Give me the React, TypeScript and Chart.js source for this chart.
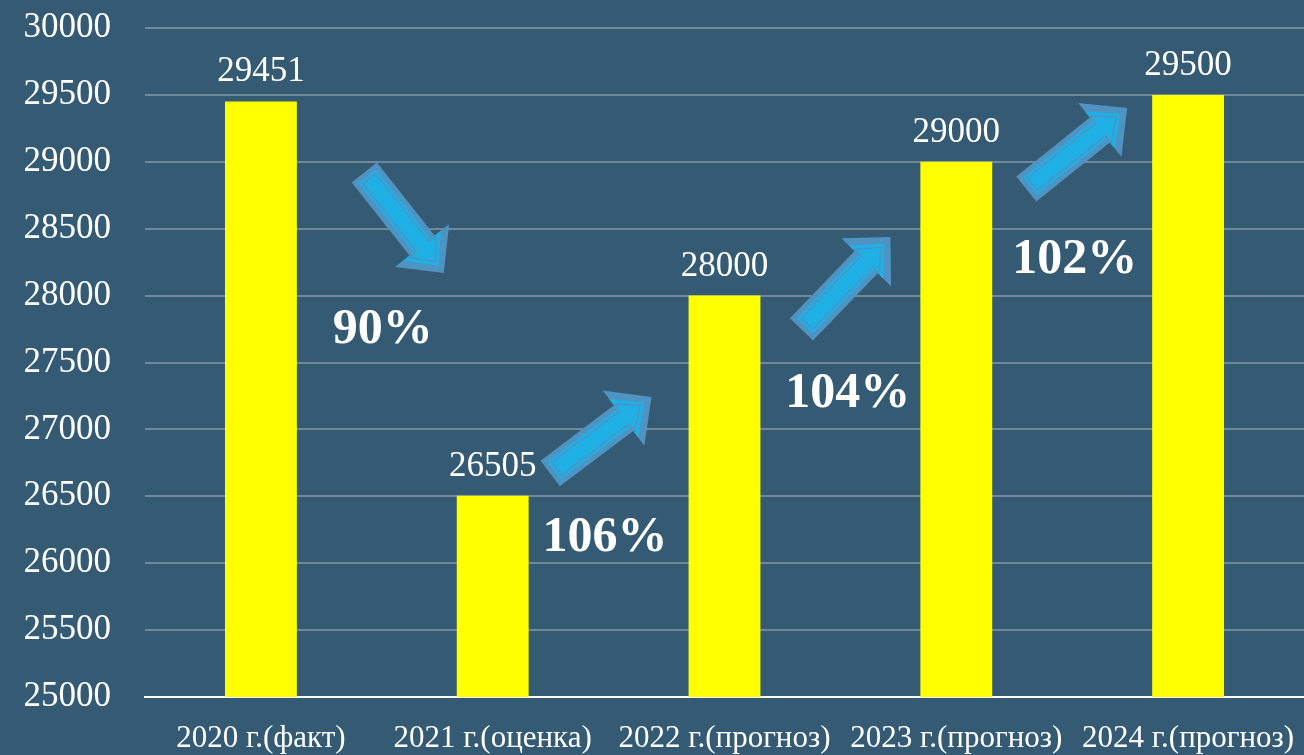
import React, { useEffect, useRef } from "react";
import { Chart, registerables } from "chart.js";

Chart.register(...registerables);

const categories = [
  "2020 г.(факт)",
  "2021 г.(оценка)",
  "2022 г.(прогноз)",
  "2023 г.(прогноз)",
  "2024 г.(прогноз)",
];
const values = [29451, 26505, 28000, 29000, 29500];
const yMin = 25000;
const yMax = 30000;
const yStep = 500;

// Growth annotations: text, anchored in data coordinates (category index, value)
const percentLabels = ["90%", "106%", "104%", "102%"];
const percentX = [0.526, 1.485, 2.532, 3.511];
const percentY = [27646, 26091, 27167, 28169];

// Arrows: tail and tip in data coordinates
const arrowTailX = [0.446, 1.248, 2.332, 3.302];
const arrowTailY = [28920, 26670, 27747, 28797];
const arrowTipX = [0.789, 1.685, 2.716, 3.737];
const arrowTipY = [28169, 27242, 28438, 29402];

const BG = "#345b73";
const SERIF = "'Liberation Serif', 'Times New Roman', serif";

function arrowPoly(tx: number, ty: number, px: number, py: number, s: number, h: number, hl: number) {
  const dx = px - tx;
  const dy = py - ty;
  const len = Math.hypot(dx, dy);
  const ux = dx / len, uy = dy / len;
  const nx = -uy, ny = ux;
  const bx = px - ux * hl, by = py - uy * hl;
  return [
    [tx + nx * s, ty + ny * s],
    [bx + nx * s, by + ny * s],
    [bx + nx * h, by + ny * h],
    [px, py],
    [bx - nx * h, by - ny * h],
    [bx - nx * s, by - ny * s],
    [tx - nx * s, ty - ny * s],
  ];
}

function pathPoly(ctx: CanvasRenderingContext2D, pts: number[][]) {
  ctx.beginPath();
  pts.forEach((p, i) => (i === 0 ? ctx.moveTo(p[0], p[1]) : ctx.lineTo(p[0], p[1])));
  ctx.closePath();
}

const bgPlugin = {
  id: "bgFill",
  beforeDraw(chart: any) {
    const ctx = chart.ctx;
    ctx.save();
    ctx.fillStyle = BG;
    ctx.fillRect(0, 0, chart.width, chart.height);
    ctx.restore();
  },
};

const overlayPlugin = {
  id: "overlay",
  afterDatasetsDraw(chart: any) {
    const ctx = chart.ctx;
    const xs = chart.scales.x;
    const ys = chart.scales.y;
    const meta = chart.getDatasetMeta(0);
    ctx.save();
    // value labels
    ctx.fillStyle = "#ffffff";
    ctx.font = `35px ${SERIF}`;
    ctx.textAlign = "center";
    ctx.textBaseline = "alphabetic";
    meta.data.forEach((bar: any, i: number) => {
      ctx.fillText(String(values[i]), bar.x, bar.y - 20);
    });
    // arrows
    const unit = xs.getPixelForValue(1) - xs.getPixelForValue(0);
    const x0 = xs.getPixelForValue(0);
    for (let i = 0; i < arrowTailX.length; i++) {
      const tx = x0 + arrowTailX[i] * unit;
      const ty = ys.getPixelForValue(arrowTailY[i]);
      const px = x0 + arrowTipX[i] * unit;
      const py = ys.getPixelForValue(arrowTipY[i]);
      const dx = px - tx, dy = py - ty;
      const len = Math.hypot(dx, dy);
      const ux = dx / len, uy = dy / len;
      pathPoly(ctx, arrowPoly(tx, ty, px, py, 16, 34.5, 35));
      ctx.fillStyle = "#4f93c3";
      ctx.fill();
      pathPoly(ctx, arrowPoly(tx + ux * 5, ty + uy * 5, px - ux * 9, py - uy * 9, 11, 24, 26));
      ctx.fillStyle = "#1fb0e6";
      ctx.fill();
      pathPoly(ctx, arrowPoly(tx + ux * 8, ty + uy * 8, px - ux * 14, py - uy * 14, 8, 17, 20));
      ctx.strokeStyle = "#4f93c3";
      ctx.lineWidth = 1.5;
      ctx.stroke();
    }
    // percent labels
    ctx.fillStyle = "#ffffff";
    ctx.font = `bold 50px ${SERIF}`;
    ctx.textAlign = "center";
    ctx.textBaseline = "alphabetic";
    for (let i = 0; i < percentLabels.length; i++) {
      const x = x0 + percentX[i] * unit;
      const y = ys.getPixelForValue(percentY[i]);
      ctx.fillText(percentLabels[i], x, y);
    }
    ctx.restore();
  },
};

export default function App() {
  const ref = useRef<HTMLCanvasElement | null>(null);
  useEffect(() => {
    document.body.style.margin = "0";
    document.body.style.background = BG;
    const canvas = ref.current!;
    const chart = new Chart(canvas, {
      type: "bar",
      data: {
        labels: categories,
        datasets: [
          {
            data: values,
            backgroundColor: "#ffff00",
            borderWidth: 0,
            barPercentage: 0.31,
            categoryPercentage: 1,
          },
        ],
      },
      options: {
        animation: false,
        responsive: false,
        maintainAspectRatio: false,
        layout: { padding: { top: 28, right: 0, left: 0, bottom: 0 } },
        plugins: {
          legend: { display: false },
          tooltip: { enabled: false },
        },
        scales: {
          x: {
            offset: true,
            grid: { display: false, drawTicks: false },
            border: { display: true, color: "#ffffff", width: 2 },
            ticks: {
              color: "#ffffff",
              font: { family: SERIF, size: 31 },
              padding: 23,
              maxRotation: 0,
              autoSkip: false,
            },
            afterFit(scale: any) {
              scale.height = 58;
              scale.paddingLeft = 0;
              scale.paddingRight = 0;
            },
          },
          y: {
            min: yMin,
            max: yMax,
            grid: { color: "#6f899b", lineWidth: 2, drawTicks: false },
            border: { display: false },
            ticks: {
              stepSize: yStep,
              color: "#ffffff",
              font: { family: SERIF, size: 35 },
              padding: 34,
              callback: (v: any) => String(v),
            },
            afterFit(scale: any) {
              scale.width = 145;
              scale.paddingTop = 0;
              scale.paddingBottom = 0;
            },
          },
        },
      },
      plugins: [bgPlugin, overlayPlugin],
    });
    return () => chart.destroy();
  }, []);
  return (
    <div style={{ width: 1304, height: 755, background: BG }}>
      <canvas ref={ref} width={1304} height={755} style={{ display: "block" }} />
    </div>
  );
}
